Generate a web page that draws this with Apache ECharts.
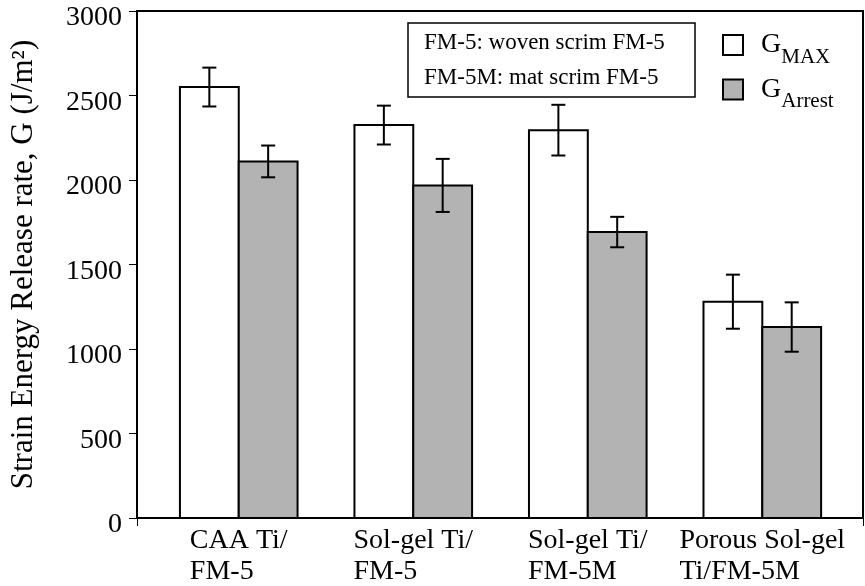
<!DOCTYPE html>
<html>
<head>
<meta charset="utf-8">
<script src="https://cdn.jsdelivr.net/npm/echarts@6/dist/echarts.min.js"></script>
<style>
  html, body { margin: 0; padding: 0; background: #fff; }
  #chart { width: 865px; height: 586px; }
</style>
</head>
<body>
<div id="chart"></div>
<script>
// data
var categories = ['CAA Ti/\nFM-5', 'Sol-gel Ti/\nFM-5', 'Sol-gel Ti/\nFM-5M', 'Porous Sol-gel\nTi/FM-5M'];
var gMax = [2550, 2325, 2295, 1280];
var gMaxErr = [115, 115, 150, 160];
var gArrest = [2110, 1968, 1692, 1130];
var gArrestErr = [94, 157, 90, 146];
var yTicks = [0, 500, 1000, 1500, 2000, 2500, 3000];

var FONT = 'Liberation Serif';
var xMin = -0.583, xMax = 3.577;
var barFrac = 0.337; // bar width in category units

var chart = echarts.init(document.getElementById('chart'));

// draws one bar + its error bar; side -1 = left of group centre, 1 = right
function makeRender(side, fill) {
  return function (params, api) {
    var i = api.value(0), v = api.value(1), e = api.value(2);
    var base = api.coord([i, 0]);
    var top = api.coord([i, v]);
    var w = api.size([barFrac, 0])[0];
    var x0 = side < 0 ? base[0] - w : base[0];
    var cx = x0 + w / 2;
    var hi = api.coord([i, v + e])[1];
    var lo = api.coord([i, v - e])[1];
    var cap = 7;
    var ln = { stroke: '#000', lineWidth: 2 };
    return {
      type: 'group',
      children: [
        { type: 'rect', shape: { x: x0, y: top[1], width: w, height: base[1] - top[1] },
          style: { fill: fill, stroke: '#000', lineWidth: 2 } },
        { type: 'line', shape: { x1: cx, y1: hi, x2: cx, y2: lo }, style: ln },
        { type: 'line', shape: { x1: cx - cap, y1: hi, x2: cx + cap, y2: hi }, style: ln },
        { type: 'line', shape: { x1: cx - cap, y1: lo, x2: cx + cap, y2: lo }, style: ln }
      ]
    };
  };
}

function toData(vals, errs) {
  return vals.map(function (v, i) { return [i, v, errs[i]]; });
}

var option = {
  animation: false,
  backgroundColor: '#fff',
  title: {
    text: 'FM-5: woven scrim FM-5\nFM-5M: mat scrim FM-5',
    left: 408,
    top: 23,
    borderColor: '#000',
    borderWidth: 1.5,
    padding: [2, 30, 2, 16],
    textStyle: { fontFamily: FONT, fontSize: 23, lineHeight: 35, fontWeight: 'normal', color: '#000' }
  },
  legend: {
    orient: 'vertical',
    left: 722,
    top: 31,
    icon: 'rect',
    itemWidth: 20,
    itemHeight: 20,
    itemGap: 8,
    padding: 0,
    data: [
      { name: 'GMAX', itemStyle: { color: '#fff', borderColor: '#000', borderWidth: 2 } },
      { name: 'GArrest', itemStyle: { color: '#b3b3b3', borderColor: '#000', borderWidth: 2 } }
    ],
    formatter: function (name) {
      return name === 'GMAX' ? '{g|G}{s|MAX}' : '{g|G}{s|Arrest}';
    },
    textStyle: {
      color: '#000',
      fontFamily: FONT,
      rich: {
        g: { fontFamily: FONT, fontSize: 28, color: '#000', padding: [0, 0, 0, 13] },
        s: { fontFamily: FONT, fontSize: 21, color: '#000', padding: [24, 0, 0, 0] }
      }
    }
  },
  grid: {
    left: 135,
    right: 2,
    top: 11,
    bottom: 68,
    show: true,
    borderColor: '#000',
    borderWidth: 2,
    backgroundColor: '#fff'
  },
  xAxis: {
    type: 'value',
    min: xMin,
    max: xMax,
    splitLine: { show: false },
    axisLine: { lineStyle: { color: '#000', width: 2 } },
    axisTick: { show: true, length: 8, customValues: [xMin, xMax], lineStyle: { color: '#000', width: 1 } },
    axisLabel: {
      customValues: [0, 1, 2, 3],
      margin: 7,
      color: '#000',
      fontFamily: FONT,
      fontSize: 28,
      formatter: function (v) {
        var lines = categories[Math.round(v)].split('\n');
        return lines.map(function (l) { return '{a|' + l + '}'; }).join('\n');
      },
      rich: {
        a: { fontFamily: FONT, fontSize: 28, lineHeight: 31, color: '#000', align: 'left' }
      }
    }
  },
  yAxis: {
    type: 'value',
    min: yTicks[0],
    max: yTicks[yTicks.length - 1],
    interval: 500,
    name: 'Strain Energy Release rate, G (J/m\u00B2)',
    nameLocation: 'middle',
    nameRotate: 90,
    nameGap: 98,
    nameTextStyle: { fontFamily: FONT, fontSize: 31, color: '#000' },
    splitLine: { show: false },
    axisLine: { show: true, onZero: false, lineStyle: { color: '#000', width: 2 } },
    axisTick: { show: true, length: 8, lineStyle: { color: '#000', width: 1 } },
    axisLabel: {
      margin: 15,
      color: '#000',
      fontFamily: FONT,
      fontSize: 28,
      verticalAlign: 'top',
      lineHeight: 14,
      formatter: function (v) { return String(v); }
    }
  },
  series: [
    {
      name: 'GMAX',
      type: 'custom',
      itemStyle: { color: '#fff', borderColor: '#000' },
      renderItem: makeRender(-1, '#fff'),
      encode: { x: 0, y: [1, 2] },
      data: toData(gMax, gMaxErr)
    },
    {
      name: 'GArrest',
      type: 'custom',
      itemStyle: { color: '#b3b3b3', borderColor: '#000' },
      renderItem: makeRender(1, '#b3b3b3'),
      encode: { x: 0, y: [1, 2] },
      data: toData(gArrest, gArrestErr)
    }
  ]
};

chart.setOption(option);
</script>
</body>
</html>
